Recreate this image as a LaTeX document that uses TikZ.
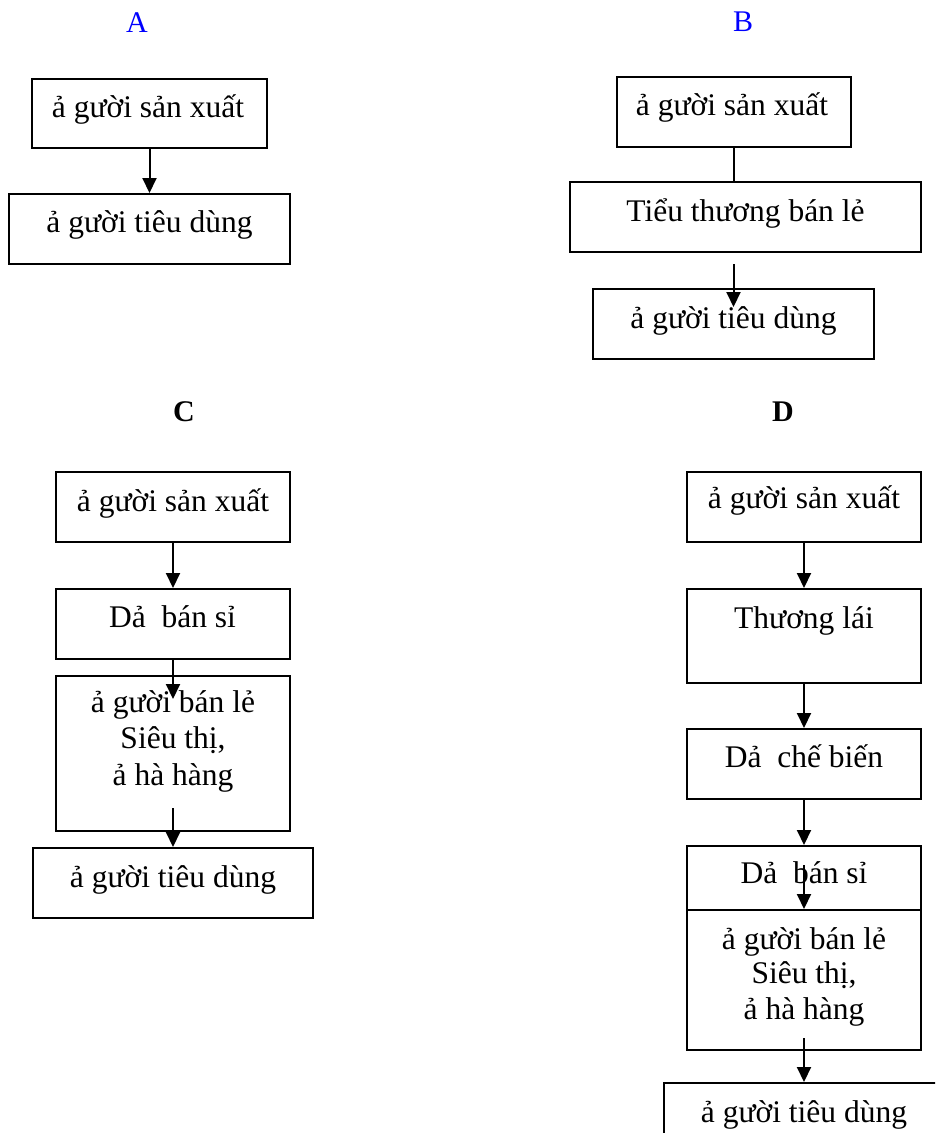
\documentclass[tikz,border=0pt]{standalone}
\usepackage{fontspec}
\setmainfont{Liberation Serif}
\usetikzlibrary{arrows.meta,calc}
\definecolor{labblue}{RGB}{0,0,255}
\begin{document}
\begin{tikzpicture}[x=1pt,y=-1pt,
  box/.style={draw,line width=2pt,rectangle,inner sep=0pt,minimum width=#1},
  txt/.style={anchor=base,inner sep=0pt,font=\fontsize{31.5}{36}\selectfont},
  lab/.style={anchor=base,inner sep=0pt,font=\fontsize{30}{36}\selectfont},
  arr/.style={line width=2pt,-{Triangle[width=14pt,length=15pt]}},
  conn/.style={line width=2pt}]
\useasboundingbox (0,0) rectangle (935,1133);
\clip (0,0) rectangle (935,1133);
% labels
\node[lab,text=labblue] (la) at (137,32) {A};
\node[lab,text=labblue] (lb) at (743,31) {B};
\node[lab,font=\fontsize{30}{36}\selectfont\bfseries] (lc) at (184,421) {C};
\node[lab,font=\fontsize{30}{36}\selectfont\bfseries] (ld) at (783,421) {D};
% A
\node[box=235pt,minimum height=69pt] (a1) at (149.5,113.5) {};
\node[box=281pt,minimum height=70pt] (a2) at (149.5,229) {};
\node[txt] (a1t) at (148,117) {ả gười sản xuất};
\node[txt] (a2t) at (149.5,232) {ả gười tiêu dùng};
\draw[arr] (a1.south) -- (a2.north);
% B
\node[box=234pt,minimum height=70pt] (b1) at (734,112) {};
\node[box=351pt,minimum height=70pt] (b2) at (745,217) {};
\node[box=281pt,minimum height=70pt] (b3) at (733.5,324) {};
\node[txt] (b1t) at (732,115) {ả gười sản xuất};
\node[txt] (b2t) at (745.5,221) {Tiểu thương bán lẻ};
\node[txt] (b3t) at (733.5,328) {ả gười tiêu dùng};
\draw[conn] (b1.south) -- (b1.south |- b2.north);
\draw[arr] ($(b2.south -| b3.north)+(0,11)$) -- ($(b3.north)+(0,19)$);
% C
\node[box=234pt,minimum height=70pt] (c1) at (173,507) {};
\node[box=234pt,minimum height=70pt] (c2) at (173,624) {};
\node[box=234pt,minimum height=155pt] (c3) at (173,753.5) {};
\node[box=280pt,minimum height=70pt] (c4) at (173,883) {};
\node[txt] (c1t) at (173,511) {ả gười sản xuất};
\node[txt] (c2t) at (172.5,627) {Dả\ \ bán sỉ};
\node[txt] (c3a) at (173,712) {ả gười bán lẻ};
\node[txt] (c3b) at (173,748) {Siêu thị,};
\node[txt] (c3c) at (173,785) {ả hà hàng};
\node[txt] (c4t) at (173,887) {ả gười tiêu dùng};
\draw[arr] (c1.south) -- (c2.north);
\draw[arr] (c2.south) -- ($(c3.north)+(0,24)$);
\draw[arr] ($(c3.south)+(0,-24)$) -- (c4.north);
% D
\node[box=234pt,minimum height=70pt] (d1) at (804,507) {};
\node[box=234pt,minimum height=94pt] (d2) at (804,636) {};
\node[box=234pt,minimum height=70pt] (d3) at (804,764) {};
\node[box=234pt,minimum height=64pt] (d4) at (804,878) {};
\node[box=234pt,minimum height=140pt] (d5) at (804,980) {};
\node[box=281pt,minimum height=70pt] (d6) at (804,1118) {};
\node[txt] (d1t) at (804,508) {ả gười sản xuất};
\node[txt] (d2t) at (804,628) {Thương lái};
\node[txt] (d3t) at (804,767) {Dả\ \ chế biến};
\node[txt] (d4t) at (804,883) {Dả\ \ bán sỉ};
\node[txt] (d5a) at (804,949) {ả gười bán lẻ};
\node[txt] (d5b) at (804,983) {Siêu thị,};
\node[txt] (d5c) at (804,1019) {ả hà hàng};
\node[txt] (d6t) at (804,1122) {ả gười tiêu dùng};
\draw[arr] (d1.south) -- (d2.north);
\draw[arr] (d2.south) -- (d3.north);
\draw[arr] (d3.south) -- (d4.north);
\draw[arr] ($(d4.north)+(0,20)$) -- (d5.north);
\draw[arr] ($(d5.south)+(0,-13)$) -- (d6.north);
\end{tikzpicture}
\end{document}
